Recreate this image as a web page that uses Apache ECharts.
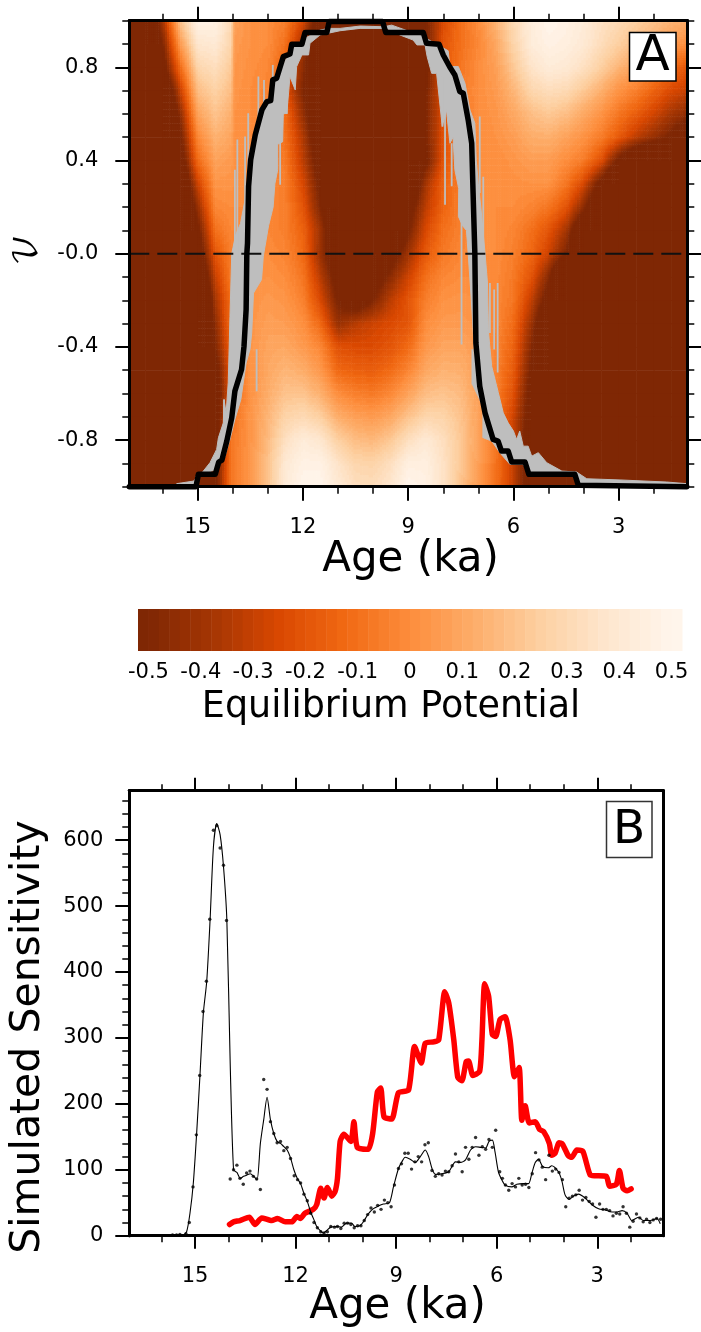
<!DOCTYPE html>
<html>
<head>
<meta charset="utf-8">
<title>Equilibrium potential and simulated sensitivity</title>
<script src="https://cdn.jsdelivr.net/npm/echarts@6/dist/echarts.min.js"></script>
<style>html,body{margin:0;padding:0;background:#fff}#c{width:701px;height:1332px}</style>
</head>
<body>
<div id="c"></div>
<script>
// ---------- Panel A: equilibrium potential field ----------
const fieldAges = [17,16.5,16,15.5,15,14.5,14.05,13.95,13.5,13,12.5,12,11.5,11,10.5,10,9.5,9,8.5,8,7.5,7,6.5,6,5.5,5,4.5,4,3.5,3,2.5,2,1.5,1];
const fieldNus = [1,.9,.8,.7,.6,.5,.4,.3,.2,.1,0,-.1,-.2,-.3,-.4,-.5,-.6,-.7,-.8,-.9,-1];
const fieldRows = [
[-.8,-.8,-.38,.2,.48,.47,.3,.08,.02,0,-.05,-.25,-.65,-.8,-.9,-.8,-.8,-.8,-.5,-.25,-.1,0,.15,.3,.43,.5,.47,.42,.35,.3,.25,.2,.15,.12],
[-.8,-.8,-.5,.05,.38,.4,.28,.05,.02,0,-.1,-.4,-.8,-.9,-.9,-.9,-.9,-.8,-.55,-.2,-.1,-.02,.1,.27,.42,.47,.45,.4,.32,.25,.18,.12,.05,0],
[-.9,-.8,-.6,-.12,.28,.33,.23,.04,.01,-.02,-.15,-.45,-.8,-.9,-.9,-.9,-.9,-.8,-.55,-.2,-.08,0,.07,.22,.36,.42,.4,.34,.25,.15,.07,-.02,-.12,-.2],
[-1,-.9,-.8,-.3,.18,.26,.18,.03,0,-.03,-.2,-.5,-.8,-.9,-1,-1,-.9,-.8,-.52,-.2,-.06,0,.05,.15,.28,.32,.3,.22,.13,.02,-.05,-.15,-.25,-.3],
[-1,-1,-.9,-.45,.08,.2,.13,.02,0,-.04,-.12,-.42,-.8,-.9,-1,-1,-.9,-.8,-.5,-.22,-.08,0,.03,.1,.18,.22,.18,.1,.02,-.08,-.17,-.27,-.38,-.45],
[-1,-1,-1,-.55,-.02,.14,.09,.02,0,-.05,-.1,-.35,-.7,-.9,-1,-1,-.9,-.8,-.5,-.22,-.08,0,.02,.06,.12,.13,.08,.02,-.06,-.18,-.32,-.42,-.53,-.7],
[-1,-1,-1,-.65,-.12,.08,.05,.02,0,-.04,-.07,-.32,-.62,-.9,-1,-1,-.9,-.8,-.55,-.2,-.08,0,0,.03,.06,.06,0,-.06,-.22,-.55,-.8,-.9,-1,-1],
[-1,-1,-1,-.8,-.28,.03,.03,.02,0,-.02,-.05,-.25,-.55,-.9,-1,-1,-.9,-.8,-.38,-.15,-.05,0,0,.01,.02,.02,-.08,-.25,-.58,-.9,-1,-1,-1,-1],
[-1,-1,-1,-.9,-.42,-.02,0,0,0,-.02,-.05,-.2,-.5,-.85,-1,-1,-.9,-.6,-.32,-.14,-.05,0,0,0,-.03,-.08,-.2,-.45,-.8,-1,-1,-1,-1,-1],
[-1,-1,-1,-1,-.55,-.1,-.02,-.02,0,-.02,-.05,-.15,-.4,-.8,-1,-1,-.9,-.52,-.25,-.1,-.04,0,0,-.03,-.1,-.2,-.38,-.75,-1,-1,-1,-1,-1,-1],
[-1,-1,-1,-1,-.65,-.2,-.05,-.05,0,0,-.03,-.12,-.42,-.7,-1,-.9,-.6,-.4,-.18,-.07,-.02,0,0,-.05,-.13,-.28,-.5,-.9,-1,-1,-1,-1,-1,-1],
[-1,-1,-1,-1,-.8,-.3,-.06,-.05,.01,.02,0,-.08,-.33,-.6,-1,-.62,-.45,-.28,-.1,-.02,0,0,-.01,-.07,-.2,-.47,-1,-1,-1,-1,-1,-1,-1,-1],
[-1,-1,-1,-1,-1,-.38,-.1,-.08,.02,.05,.03,-.04,-.25,-.52,-.64,-.5,-.32,-.2,-.05,.02,.03,.02,-.02,-.08,-.3,-.6,-1,-1,-1,-1,-1,-1,-1,-1],
[-1,-1,-1,-1,-1,-.45,-.1,-.08,.03,.07,.06,.01,-.13,-.42,-.33,-.28,-.24,-.2,0,.05,.05,.03,-.02,-.12,-.4,-.8,-1,-1,-1,-1,-1,-1,-1,-1],
[-1,-1,-1,-1,-1,-.5,-.15,-.1,.03,.09,.1,.05,-.02,-.22,-.24,-.24,-.2,-.12,.04,.09,.09,.05,-.03,-.15,-.47,-.9,-1,-1,-1,-1,-1,-1,-1,-1],
[-1,-1,-1,-1,-1,-.6,-.18,-.12,.02,.1,.15,.12,.04,-.13,-.16,-.17,-.12,-.03,.1,.14,.13,.06,-.04,-.18,-.52,-.9,-1,-1,-1,-1,-1,-1,-1,-1],
[-1,-1,-1,-1,-1,-.65,-.18,-.12,.02,.12,.2,.2,.13,0,-.05,-.07,-.02,.08,.18,.2,.17,.07,-.05,-.22,-.58,-1,-1,-1,-1,-1,-1,-1,-1,-1],
[-1,-1,-1,-1,-1,-.65,-.12,-.08,.03,.15,.27,.3,.25,.12,.07,.05,.1,.2,.28,.27,.2,.08,-.06,-.28,-.6,-1,-1,-1,-1,-1,-1,-1,-1,-1],
[-1,-1,-1,-1,-1,-.62,-.08,-.06,.03,.17,.34,.42,.38,.25,.18,.16,.22,.33,.4,.33,.22,.08,-.07,-.3,-.65,-1,-1,-1,-1,-1,-1,-1,-1,-1],
[-1,-1,-1,-1,-1,-.58,-.07,-.06,.04,.2,.4,.47,.47,.36,.28,.27,.33,.45,.45,.35,.22,.07,-.09,-.3,-.65,-1,-1,-1,-1,-1,-1,-1,-1,-1],
[-1,-1,-1,-1,-1,-.55,-.07,-.06,.04,.2,.42,.5,.5,.4,.33,.32,.38,.5,.47,.35,.2,.05,-.1,-.3,-.65,-1,-1,-1,-1,-1,-1,-1,-1,-1]
];
// Grey ensemble envelope, outline as [age, nu]
const grayOutline = [
[15.6,-.987],[15.12,-.976],[14.84,-.933],[14.65,-.897],[14.46,-.84],[14.41,-.79],[14.27,-.726],[14.25,-.626],[14.19,-.683],[14.13,-.554],[14.08,-.269],[14.03,0],
[13.92,.08],[13.78,.13],[13.64,.24],[13.58,.3],[13.52,.4],[13.4,.5],[13.22,.62],[13.05,.66],[12.93,.67],[12.87,.76],[12.75,.76],[12.37,.867],[12.03,.917],[11.51,.96],[11.27,.967],
[10.94,.967],[10.37,.977],[9.71,.974],[9.47,.981],[8.95,.953],[8.66,.939],[7.86,.871],[7.81,.803],[7.57,.803],[7.38,.731],[7.24,.617],[7.1,.56],[7.06,.4],[7.0,.3],[6.93,.2],[6.81,.003],
[6.74,-.126],[6.71,-.34],[6.62,-.483],[6.43,-.597],[6.29,-.683],[6.15,-.726],[6,-.761],[5.91,-.797],[5.82,-.761],[5.72,-.826],[5.58,-.826],[5.48,-.869],[5.29,-.854],[5.05,-.897],[4.62,-.933],[4.2,-.937],[3.91,-.966],[2.96,-.971],[1.63,-.98],[1.06,-.987],[1.06,-.997],
[4.2,-.99],[4.29,-.954],[5.53,-.954],[5.72,-.904],[6.1,-.904],[6.39,-.854],[6.62,-.804],[6.86,-.79],[6.8,-.68],[6.96,-.626],[7.17,-.561],[7.12,-.4],[7.2,-.2],[7.29,0],[7.34,.1],[7.45,.12],[7.57,.16],[7.56,.28],[7.67,.36],[7.72,.5],[7.81,.474],[7.91,.617],[8.03,.546],[8.19,.774],[8.33,.774],[8.46,.846],[8.52,.896],[8.75,.896],[8.86,.917],[9.24,.939],[9.61,.967],[10.37,.967],[10.94,.957],[11.51,.939],[11.8,.903],[11.84,.853],[12.03,.853],[12.18,.803],[12.22,.703],[12.37,.76],[12.46,.603],[12.56,.6],[12.58,.48],[12.72,.47],[12.72,.36],[12.8,.3],[12.85,.2],[12.98,.12],[13.13,-.011],
[13.18,-.111],[13.41,-.169],[13.46,-.34],[13.51,-.411],[13.62,-.469],[13.77,-.626],[13.94,-.711],[14.08,-.797],[14.22,-.869],[14.46,-.926],[15.05,-.954],[15.1,-.99],[15.6,-.994]
];
// Thin grey spikes of the ensemble: age, lower nu, upper nu
const spikeAges = [13.94,13.87,13.65,13.56,13.27,13.11,12.86,12.65,12.46,7.95,7.76,7.48,7.48,8.02,6.96,6.86,6.67,6.55,6.45,6.86,7.17,13.32,14.25];
const spikeLow = [-.011,-.011,.131,.36,.5,.54,.62,.296,.6,.21,.289,0,-.39,.546,.26,0,-.34,-.411,-.51,-.79,-.56,-.59,-.726];
const spikeHigh = [.36,.49,.503,.603,.76,.746,.81,.546,.7,.617,.474,.16,0,.76,.589,.33,-.126,-.154,-.126,-.683,-.41,-.41,-.626];
// Thick black pathway
const pathAges = [16.95,15.05,14.98,14.5,14.4,14.31,14.17,14.03,13.94,13.75,13.68,13.62,13.6,13.58,13.55,13.49,13.36,13.17,13.03,12.92,12.86,12.75,12.56,12.37,12.32,12.03,11.94,11.32,11.25,9.73,9.64,8.57,8.48,8.12,8,7.81,7.67,7.53,7.43,7.29,7.19,7.15,7.1,7.09,7.07,6.96,6.81,6.58,6.44,6.34,6.15,6.05,5.67,5.56,4.25,4.15,1.06];
const pathNus = [-1,-1,-.947,-.947,-.894,-.886,-.804,-.704,-.59,-.497,-.397,-.24,0,.046,.289,.403,.51,.617,.653,.657,.746,.753,.846,.857,.899,.899,.949,.949,.997,.997,.949,.949,.903,.899,.853,.8,.767,.696,.689,.574,.474,.26,0,-.126,-.383,-.569,-.683,-.797,-.804,-.847,-.847,-.894,-.894,-.947,-.947,-.994,-1];
// Colour bar
const barLevels = [-.51,-.49,-.47,-.45,-.43,-.41,-.39,-.37,-.35,-.33,-.31,-.29,-.27,-.25,-.23,-.21,-.19,-.17,-.15,-.13,-.11,-.09,-.07,-.05,-.03,-.01,.01,.03,.05,.07,.09,.11,.13,.15,.17,.19,.21,.23,.25,.27,.29,.31,.33,.35,.37,.39,.41,.43,.45,.47,.49,.51];
const barTicks = [-.5,-.4,-.3,-.2,-.1,0,.1,.2,.3,.4,.5];
const colorStops = ['#7f2704','#a63603','#d94801','#f16913','#fd8d3c','#fdae6b','#fdd0a2','#fee6ce','#fff5eb'];
// ---------- Panel B ----------
const redAges = [13.97,13.85,13.66,13.38,13.21,13.01,12.71,12.54,12.31,12.11,11.96,11.86,11.72,11.47,11.37,11.25,11.15,11.05,10.92,10.82,10.75,10.67,10.56,10.35,10.26,10.16,9.83,9.7,9.56,9.46,9.36,9.13,8.93,8.63,8.45,8.25,8.13,7.88,7.73,7.55,7.43,7.28,7.16,7.04,6.91,6.84,6.71,6.51,6.44,6.36,6.24,6.13,6.03,5.9,5.75,5.6,5.47,5.33,5.25,5.15,5.03,4.85,4.72,4.6,4.43,4.36,4.26,4.14,4.04,3.86,3.76,3.61,3.43,3.21,3.06,2.73,2.63,2.43,2.34,2.23,2.11,1.99];
const redValues = [17,21,23,28,17,27,23,26,21,21,29,26,34,40,47,72,57,73,60,67,87,143,154,143,173,134,131,155,218,224,180,177,217,221,287,262,292,294,297,370,353,297,240,235,264,265,243,249,297,382,363,305,302,328,332,297,241,255,175,197,171,173,161,158,140,122,125,141,139,121,119,130,128,92,91,90,75,78,99,72,68,71];
const smoothAges = [16.95,15.9,15.35,15.25,15.15,15.05,14.95,14.85,14.75,14.65,14.55,14.45,14.35,14.25,14.15,14.05,13.95,13.85,13.75,13.65,13.55,13.45,13.35,13.25,13.15,13.05,12.95,12.85,12.75,12.65,12.55,12.45,12.35,12.25,12.15,12.05,11.95,11.85,11.75,11.65,11.55,11.45,11.37,11.27,11.17,11.07,10.95,10.78,10.63,10.48,10.33,10.23,10.08,9.98,9.83,9.68,9.53,9.38,9.2,9.08,8.93,8.83,8.73,8.58,8.43,8.28,8.13,8.03,7.93,7.83,7.63,7.43,7.23,7.08,6.93,6.78,6.63,6.48,6.33,6.23,6.13,6.05,5.95,5.85,5.75,5.55,5.4,5.2,5.05,4.95,4.85,4.75,4.63,4.46,4.36,4.16,4.06,3.96,3.84,3.71,3.56,3.36,3.16,2.96,2.76,2.56,2.41,2.26,2.11,1.97,1.77,1.62,1.42,1.22,1.12];
const smoothValues = [0,0,1,6,34,80,156,245,338,386,479,590,625,608,560,479,261,100,96,87,90,92,94,90,85,140,176,210,176,155,143,140,135,130,118,100,87,79,64,52,36,24,14,8,4,8,13,14,13,19,19,14,15,21,33,41,45,48,50,74,102,112,119,116,111,120,130,120,102,93,94,97,112,111,115,130,135,134,133,143,145,127,97,85,77,74,78,79,79,95,111,116,105,103,106,97,84,62,55,60,63,57,47,41,39,36,36,38,34,23,28,23,23,26,18];
const dotAges = [15.67,15.55,15.45,15.27,15.17,15.06,14.96,14.86,14.76,14.66,14.56,14.45,14.35,14.25,14.15,14.06,13.95,13.85,13.75,13.66,13.56,13.46,13.36,13.26,13.16,13.05,12.95,12.85,12.75,12.65,12.55,12.45,12.35,12.25,12.15,12.04,11.94,11.85,11.75,11.65,11.55,11.45,11.35,11.25,11.15,11.05,10.95,10.84,10.75,10.65,10.55,10.45,10.35,10.25,10.15,10.05,9.95,9.85,9.75,9.65,9.55,9.45,9.35,9.25,9.15,9.05,8.93,8.84,8.74,8.64,8.54,8.44,8.34,8.24,8.14,8.04,7.93,7.83,7.73,7.63,7.53,7.43,7.33,7.23,7.13,7.03,6.93,6.83,6.73,6.63,6.53,6.43,6.33,6.23,6.13,6.03,5.91,5.83,5.74,5.64,5.54,5.44,5.34,5.24,5.14,5.04,4.94,4.84,4.74,4.64,4.54,4.44,4.34,4.24,4.14,4.04,3.94,3.84,3.74,3.64,3.54,3.44,3.34,3.24,3.14,3.04,2.93,2.83,2.73,2.63,2.53,2.43,2.33,2.23,2.13,2.03,1.93,1.83,1.73,1.63,1.53,1.43,1.33,1.23,1.11];
const dotValues = [1,1,2,3,20,74,153,243,340,386,480,615,622,588,562,478,86,100,107,87,78,95,98,90,86,70,237,222,173,155,141,143,129,134,117,91,85,80,63,53,34,20,12,6,4,6,14,13,14,11,19,19,17,12,15,15,23,32,42,36,46,40,54,50,44,77,102,109,125,125,101,112,120,112,138,141,99,90,94,92,98,97,106,124,112,97,134,116,134,149,122,135,131,146,134,160,97,87,77,69,79,74,87,77,78,73,94,126,115,104,85,122,98,101,96,85,44,57,60,62,69,54,58,52,48,28,48,40,40,38,30,34,33,44,34,13,22,33,27,21,25,20,24,26,25];
const ageMajor = [15,12,9,6,3];
const ageMinor = [16,14,13,11,10,8,7,5,4,2];
const nuMajor = [-.8,-.4,0,.4,.8];
const nuMinor = [-1,-.9,-.7,-.6,-.5,-.3,-.2,-.1,.1,.2,.3,.5,.6,.7,.9,1];
const sensMajor = [0,100,200,300,400,500,600];
const sensMinor = [20,40,60,80,120,140,160,180,220,240,260,280,320,340,360,380,420,440,460,480,520,540,560,580,620,640,660];

// ---------- helpers ----------
const FONT = '"DejaVu Sans"';
function colorFor(v){
  if (v <= -.5) return colorStops[0];
  // filled-contour look: the value is snapped to the colour bar's own bands
  const c = Math.max(-.5, Math.min(.5, Math.floor((v + .52) / .02) * .02 - .51));
  const t = (c + .5) * (colorStops.length - 1);
  const k = Math.min(colorStops.length - 2, Math.floor(t)), f = t - k;
  const a = hex(colorStops[k]), b = hex(colorStops[k + 1]);
  return 'rgb(' + [0, 1, 2].map(n => Math.round(a[n] + (b[n] - a[n]) * f)).join(',') + ')';
}
function hex(s){ return [1, 3, 5].map(i => parseInt(s.substr(i, 2), 16)); }
function pairs(a, b){ return a.map((x, i) => [x, b[i]]); }
function tickAxis(base, values, len, opts){
  return Object.assign({
    type: 'value', inverse: false, scale: false, z: 10,
    axisLine: { show: true, onZero: false, lineStyle: { color: '#000', width: 3 } },
    axisTick: { show: true, length: len, customValues: values, lineStyle: { color: '#000', width: len > 10 ? 2 : 1.5 } },
    axisLabel: { show: false, customValues: values },
    splitLine: { show: false }, minorTick: { show: false }
  }, base, opts || {});
}
const labelStyle = { fontFamily: FONT, fontSize: 21, color: '#000' };
function labelled(margin, fmt, values){
  return { axisLabel: Object.assign({ show: true, margin, customValues: values, hideOverlap: false, showMinLabel: true, showMaxLabel: true, formatter: fmt }, labelStyle) };
}
const xA = { gridIndex: 0, min: 1.044, max: 16.95, inverse: true };
const xB = { gridIndex: 2, min: 1.03, max: 16.96, inverse: true };
const yA = { gridIndex: 0, min: -1, max: 1 };
const yB = { gridIndex: 2, min: 0, max: 675 };

const fieldCells = [];
fieldRows.slice(0, -1).forEach((row, j) => row.slice(0, -1).forEach((_, i) => fieldCells.push([fieldAges[i], fieldNus[j], i, j])));
const spikeData = [];
spikeAges.forEach((a, i) => { spikeData.push([a, spikeLow[i]], [a, spikeHigh[i]], '-'); });

function renderFieldCell(params, api){
  const i = api.value(2), j = api.value(3);
  const tl = api.coord([fieldAges[i], fieldNus[j]]), br = api.coord([fieldAges[i + 1], fieldNus[j + 1]]);
  const v00 = fieldRows[j][i], v10 = fieldRows[j][i + 1], v01 = fieldRows[j + 1][i], v11 = fieldRows[j + 1][i + 1];
  const w = br[0] - tl[0], h = br[1] - tl[1];
  if (Math.max(v00, v10, v01, v11) <= -.5) {
    return { type: 'rect', shape: { x: tl[0], y: tl[1], width: w + .6, height: h + .6 }, style: { fill: colorFor(-.5) }, silent: true };
  }
  const nx = Math.max(1, Math.ceil(w / 2.5)), ny = Math.max(1, Math.ceil(h / 2.5));
  const children = [];
  for (let b = 0; b < ny; b++) {
    const tb = (b + .5) / ny;
    for (let a = 0; a < nx; a++) {
      const ta = (a + .5) / nx;
      const v = (v00 * (1 - ta) + v10 * ta) * (1 - tb) + (v01 * (1 - ta) + v11 * ta) * tb;
      children.push({ type: 'rect', shape: { x: tl[0] + w * a / nx, y: tl[1] + h * b / ny, width: w / nx + .6, height: h / ny + .6 }, style: { fill: colorFor(v) }, silent: true });
    }
  }
  return { type: 'group', children };
}
function renderGray(params, api){
  if (params.dataIndex !== 0) return null;
  return { type: 'polygon', shape: { points: grayOutline.map(p => api.coord(p)) }, style: { fill: '#bebebe', stroke: '#bebebe', lineWidth: 1 }, silent: true };
}
function renderBar(params, api){
  const lev = api.value(0);
  const a = api.coord([lev - .01, 1]), b = api.coord([lev + .01, 0]);
  return { type: 'rect', shape: { x: a[0], y: a[1], width: b[0] - a[0] + .5, height: b[1] - a[1] }, style: { fill: colorFor(lev) }, silent: true };
}

const chart = echarts.init(document.getElementById('c'), null, { renderer: 'canvas', width: 701, height: 1332 });
chart.setOption({
  animation: false,
  backgroundColor: '#fff',
  grid: [
    { left: 129.3, top: 20.7, width: 558, height: 466, containLabel: false, outerBoundsMode: 'none' },
    { left: 138, top: 609, width: 544, height: 42, containLabel: false, outerBoundsMode: 'none' },
    { left: 129.3, top: 790.7, width: 534, height: 445, containLabel: false, outerBoundsMode: 'none' }
  ],
  xAxis: [
    tickAxis(xA, ageMajor, 14, Object.assign({ position: 'bottom' }, labelled(30, v => String(v), ageMajor))),
    tickAxis(xA, ageMinor, 7, { position: 'bottom' }),
    tickAxis(xA, ageMajor, 14, { position: 'top' }),
    tickAxis(xA, ageMinor, 7, { position: 'top' }),
    { type: 'value', gridIndex: 1, min: -.52, max: .52, position: 'bottom', z: 10,
      axisLine: { show: false }, axisTick: { show: false }, splitLine: { show: false },
      axisLabel: Object.assign({ show: true, margin: 11, customValues: barTicks, hideOverlap: false, formatter: v => String(+v.toFixed(1)) }, labelStyle) },
    tickAxis(xB, ageMajor, 13, Object.assign({ position: 'bottom' }, labelled(30, v => String(v), ageMajor))),
    tickAxis(xB, ageMinor, 6.5, { position: 'bottom' }),
    tickAxis(xB, ageMajor, 13, { position: 'top' }),
    tickAxis(xB, ageMinor, 6.5, { position: 'top' })
  ],
  yAxis: [
    tickAxis(yA, nuMajor, 14, Object.assign({ position: 'left' }, labelled(31, v => v === 0 ? '-0.0' : v.toFixed(1), nuMajor))),
    tickAxis(yA, nuMinor, 7, { position: 'left' }),
    tickAxis(yA, nuMajor, 14, { position: 'right' }),
    tickAxis(yA, nuMinor, 7, { position: 'right' }),
    { type: 'value', gridIndex: 1, min: 0, max: 1, position: 'left', axisLine: { show: false }, axisTick: { show: false }, axisLabel: { show: false }, splitLine: { show: false } },
    tickAxis(yB, sensMajor, 14, Object.assign({ position: 'left' }, labelled(26, v => String(v), sensMajor))),
    tickAxis(yB, sensMinor, 7, { position: 'left' }),
    Object.assign(tickAxis(yB, [], 0, { position: 'right' }), { axisTick: { show: false } })
  ],
  series: [
    { type: 'custom', name: 'Equilibrium potential', xAxisIndex: 0, yAxisIndex: 0, clip: true, silent: true, data: fieldCells, renderItem: renderFieldCell, z: 1 },
    { type: 'custom', name: 'Ensemble', xAxisIndex: 0, yAxisIndex: 0, clip: true, silent: true, data: grayOutline, renderItem: renderGray, z: 2 },
    { type: 'line', name: 'Ensemble spikes', xAxisIndex: 0, yAxisIndex: 0, data: spikeData, connectNulls: false, symbol: 'none', silent: true, lineStyle: { color: '#bebebe', width: 1.8 }, z: 2 },
    { type: 'line', name: 'nu = 0', xAxisIndex: 0, yAxisIndex: 0, data: [[16.95, 0], [1.044, 0]], symbol: 'none', silent: true, lineStyle: { color: '#111', width: 2, type: [20, 8] }, z: 3 },
    { type: 'line', name: 'Pathway', xAxisIndex: 0, yAxisIndex: 0, data: pairs(pathAges, pathNus), symbol: 'none', clip: false, silent: true, lineStyle: { color: '#000', width: 5.5, join: 'round', cap: 'round' }, z: 4 },
    { type: 'custom', name: 'Colour bar', xAxisIndex: 4, yAxisIndex: 4, silent: true, data: barLevels.map(v => [v, .5]), renderItem: renderBar, z: 2 },
    { type: 'line', name: 'Observed', xAxisIndex: 5, yAxisIndex: 5, data: pairs(redAges, redValues), symbol: 'none', smooth: .2, silent: true, lineStyle: { color: '#ff0000', width: 5.5, join: 'round', cap: 'round' }, z: 3 },
    { type: 'line', name: 'Simulated mean', xAxisIndex: 5, yAxisIndex: 5, data: pairs(smoothAges, smoothValues), symbol: 'none', smooth: .25, silent: true, lineStyle: { color: '#000', width: 1.1 }, z: 4 },
    { type: 'scatter', name: 'Simulated', xAxisIndex: 5, yAxisIndex: 5, data: pairs(dotAges, dotValues), symbol: 'circle', symbolSize: 3.4, silent: true, itemStyle: { color: '#000' }, z: 5 }
  ],
  graphic: [
    { type: 'rect', z: 100, shape: { x: 629.5, y: 32.5, width: 46.5, height: 48.5 }, style: { fill: '#fff', stroke: '#000', lineWidth: 1.5 } },
    { type: 'text', z: 101, x: 652.7, y: 57, style: { text: 'A', font: '50px ' + FONT, fill: '#000', textAlign: 'center', textVerticalAlign: 'middle' } },
    { type: 'rect', z: 100, shape: { x: 606.5, y: 801.5, width: 45.5, height: 56 }, style: { fill: '#fff', stroke: '#333', lineWidth: 1.5 } },
    { type: 'text', z: 101, x: 629, y: 831, style: { text: 'B', font: '47px ' + FONT, fill: '#000', textAlign: 'center', textVerticalAlign: 'middle' } },
    { type: 'text', z: 101, x: 410.5, y: 560, style: { text: 'Age (ka)', font: '42px ' + FONT, fill: '#000', textAlign: 'center', textVerticalAlign: 'middle' } },
    { type: 'text', z: 101, x: 397.5, y: 1307, style: { text: 'Age (ka)', font: '42px ' + FONT, fill: '#000', textAlign: 'center', textVerticalAlign: 'middle' } },
    { type: 'text', z: 101, x: 391, y: 708, style: { text: 'Equilibrium Potential', font: '36.5px ' + FONT, fill: '#000', textAlign: 'center', textVerticalAlign: 'middle' } },
    { type: 'text', z: 101, x: 28, y: 1037, rotation: Math.PI / 2, style: { text: 'Simulated Sensitivity', font: '41px ' + FONT, fill: '#000', textAlign: 'center', textVerticalAlign: 'middle' } },
    { type: 'text', z: 101, x: 27, y: 250, rotation: Math.PI / 2, style: { text: '\uD835\uDCB1', font: '32px "DejaVu Math TeX Gyre","DejaVu Serif","DejaVu Sans"', fill: '#000', textAlign: 'center', textVerticalAlign: 'middle' } }
  ]
});
</script>
</body>
</html>
